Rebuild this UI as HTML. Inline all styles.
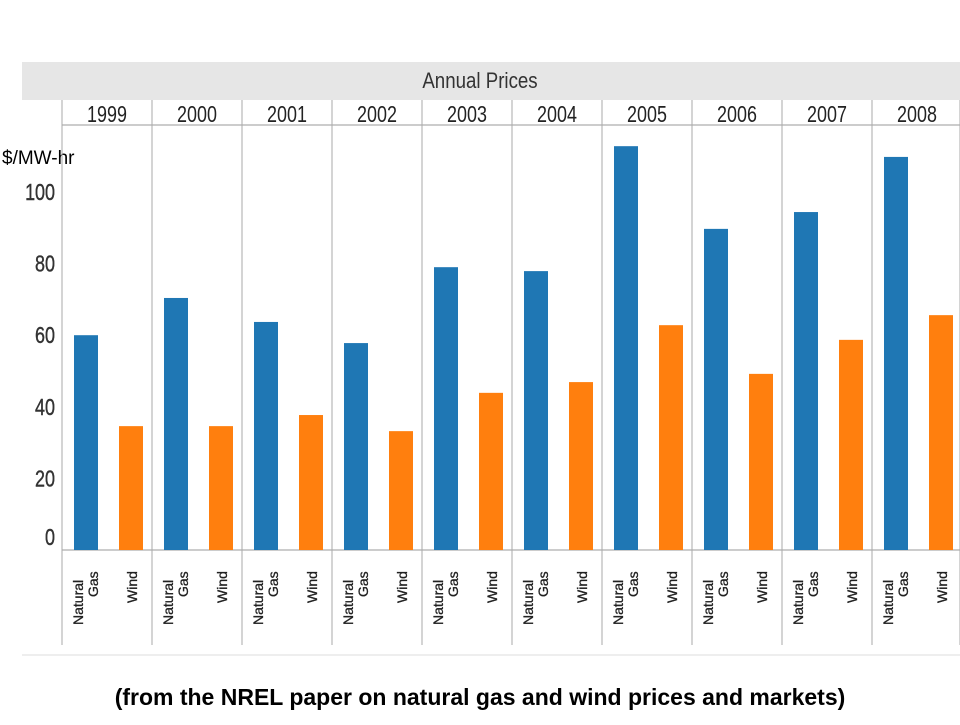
<!DOCTYPE html>
<html><head><meta charset="utf-8"><style>
body{margin:0;background:#fff;width:960px;height:720px;overflow:hidden;font-family:"Liberation Sans",sans-serif}
</style></head><body>
<svg id="chart" width="960" height="720" xmlns="http://www.w3.org/2000/svg">
<rect x="22" y="62" width="938" height="38" fill="#e6e6e6"/>
<text x="480" y="88" text-anchor="middle" font-size="22" fill="#333" transform="translate(480,0) scale(0.85,1) translate(-480,0)">Annual Prices</text>
<text x="2" y="164" font-size="19" fill="#000">$/MW-hr</text>
<line x1="22" y1="655" x2="960" y2="655" stroke="#ddd"/>
<text x="480" y="705" text-anchor="middle" font-size="23" font-weight="bold" fill="#000">(from the NREL paper on natural gas and wind prices and markets)</text>
<g id="g"></g>
</svg>
<script>
const years=['1999','2000','2001','2002','2003','2004','2005','2006','2007','2008'];
const gasValues=[60,70.4,63.7,57.8,79,77.9,112.8,89.7,94.4,109.8];
const windValues=[34.6,34.6,37.7,33.2,43.9,46.9,62.8,49.2,58.7,65.6];
const yTicks=[0,20,40,60,80,100];
const NS='http://www.w3.org/2000/svg';
const g=document.getElementById('g');
const y0=550,k=3.58,x0=62,pw=90;
const y=v=>y0-v*k;
function el(t,a){const e=document.createElementNS(NS,t);for(const n in a)e.setAttribute(n,a[n]);g.appendChild(e);return e;}
let e;
e=el('line',{x1:62,y1:125,x2:960,y2:125,stroke:'#999'});


e=el('line',{x1:62,y1:y0,x2:960,y2:y0,stroke:'#999'});


yTicks.forEach(v=>{
 const ty=v===0?y(v)-5:y(v)+8;
 e=el('text',{x:55,y:ty,'text-anchor':'end','font-size':23,fill:'#333','stroke':'#333','stroke-width':0.4,transform:`translate(55,0) scale(0.78,1) translate(-55,0)`});
 e.textContent=v;
 
 
});
years.forEach((yr,i)=>{
 const px=x0+i*pw;
 e=el('line',{x1:px,y1:100,x2:px,y2:645,stroke:'#aaa'});
 
 
 e=el('text',{x:px+45,y:122,'text-anchor':'middle','font-size':23,fill:'#222',transform:`translate(${px+45},0) scale(0.78,1) translate(${-(px+45)},0)`});
 e.textContent=yr;
 
 
 e=el('rect',{x:px+12,y:y(gasValues[i]),width:24,height:gasValues[i]*k,fill:'#1f77b4'});
 
 
 e=el('rect',{x:px+57,y:y(windValues[i]),width:24,height:windValues[i]*k,fill:'#ff7f0e'});
 
 
 e=el('text',{transform:`translate(${px+21},625) rotate(-90)`,'font-size':14,fill:'#222','stroke':'#222','stroke-width':0.3});
 e.textContent='Natural';
 
 
 e=el('text',{transform:`translate(${px+36},597) rotate(-90)`,'font-size':14,fill:'#222','stroke':'#222','stroke-width':0.3});
 e.textContent='Gas';
 
 
 e=el('text',{transform:`translate(${px+75},603) rotate(-90)`,'font-size':14,fill:'#222','stroke':'#222','stroke-width':0.3});
 e.textContent='Wind';
 
 
});
e=el('line',{x1:960,y1:100,x2:960,y2:645,stroke:'#aaa'});


</script>
</body></html>
